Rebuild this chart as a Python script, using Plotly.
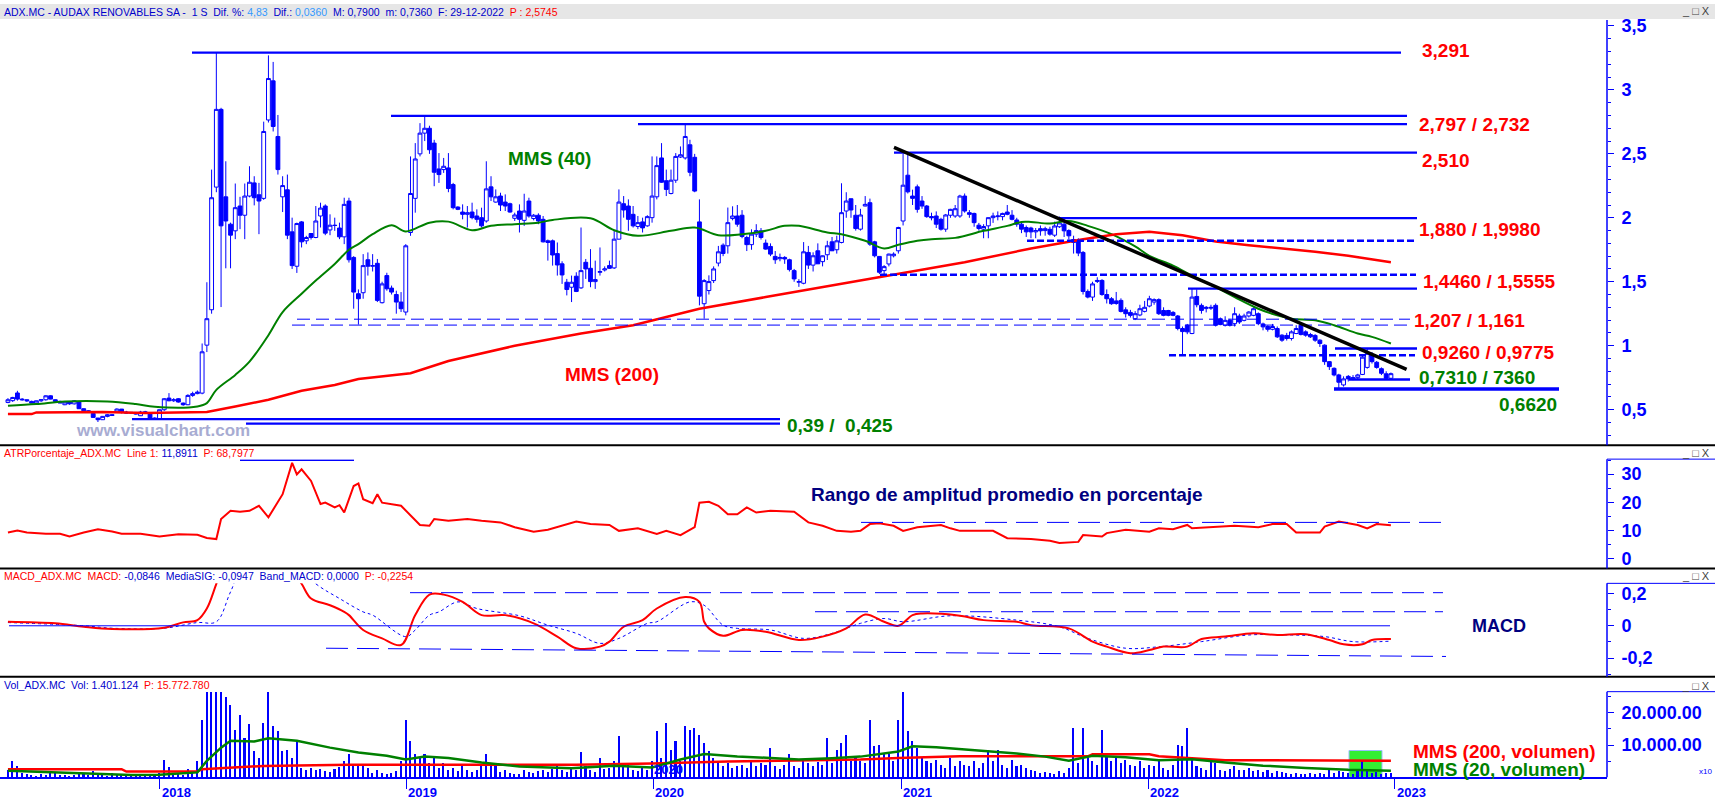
import pandas as pd
import plotly.graph_objects as go

W, H = 1715, 799
FONT = "Liberation Sans, Arial, sans-serif"

# ======================= DATA =======================
START = "2017-05-22"          # first weekly bar
N_WEEKS = 293

opens = [
    .556, .570, .630, .582, .577, .564, .551, .569, .577, .608,
    .577, .564, .538, .559, .545, .559, .507, .491, .470, .434,
    .421, .447, .460, .481, .504, .481, .473, .478, .452, .481,
    .465, .434, .427, .499, .590, .569, .585, .551, .538, .611,
    .625, .629, 1.004, 1.281, 2.240, 2.848, 2.164, 1.950, 1.898, 2.092,
    2.020, 2.170, 2.273, 2.180, 2.152, 2.765, 3.071, 2.636, 2.164, 2.219,
    1.890, 1.621, 1.968, 1.820, 1.877, 1.846, 2.014, 2.092, 1.905, 1.942,
    1.920, 1.851, 2.131, 1.690, 1.406, 1.414, 1.672, 1.621, 1.644, 1.336,
    1.548, 1.450, 1.400, 1.341, 1.263, 1.885, 2.152, 2.500, 2.662, 2.700,
    2.584, 2.382, 2.377, 2.390, 2.260, 2.084, 2.045, 2.027, 2.045, 2.014,
    2.001, 1.975, 2.242, 2.123, 2.170, 2.123, 2.110, 1.996, 2.053, 1.980,
    2.131, 1.994, 2.020, 1.988, 1.820, 1.820, 1.720, 1.640, 1.496, 1.457,
    1.543, 1.452, 1.652, 1.605, 1.501, 1.574, 1.592, 1.626, 1.608, 1.833,
    2.110, 2.092, 2.027, 1.932, 1.968, 1.937, 2.001, 2.164, 2.468, 2.290,
    2.190, 2.294, 2.475, 2.468, 2.571, 2.473, 1.968, 1.328, 1.431, 1.509,
    1.646, 1.786, 1.781, 1.994, 2.014, 2.020, 1.846, 1.790, 1.872, 1.898,
    1.802, 1.776, 1.698, 1.680, 1.690, 1.672, 1.587, 1.496, 1.488, 1.729,
    1.630, 1.742, 1.657, 1.711, 1.812, 1.750, 1.807, 2.053, 2.149, 2.020,
    1.911, 2.092, 2.118, 1.812, 1.698, 1.587, 1.639, 1.703, 1.742, 1.975,
    2.333, 2.170, 2.242, 2.131, 2.092, 2.010, 2.014, 1.988, 1.911, 2.020,
    2.014, 2.014, 2.170, 2.040, 2.034, 1.942, 1.911, 1.937, 2.001, 2.009,
    2.009, 2.045, 2.020, 1.983, 1.950, 1.924, 1.920, 1.890, 1.915, 1.900,
    1.910, 1.864, 1.930, 1.950, 1.900, 1.830, 1.820, 1.729, 1.424, 1.380,
    1.510, 1.510, 1.400, 1.367, 1.350, 1.354, 1.280, 1.260, 1.211, 1.240,
    1.268, 1.310, 1.341, 1.360, 1.275, 1.275, 1.260, 1.232, 1.134, 1.160,
    1.095, 1.385, 1.315, 1.290, 1.300, 1.315, 1.210, 1.160, 1.198, 1.172,
    1.232, 1.198, 1.232, 1.237, 1.250, 1.170, 1.150, 1.128, 1.134, 1.082,
    1.080, 1.056, 1.095, 1.160, 1.108, 1.087, 1.080, 1.043, 1.004, 0.875,
    0.823, 0.771, 0.693, 0.760, 0.740, 0.750, 0.775, 0.830, 0.926, 0.870,
    0.820, 0.780, 0.745,
]
highs = [
    .590, .600, .647, .590, .580, .570, .570, .580, .612, .612,
    .580, .570, .560, .562, .575, .565, .510, .495, .475, .435,
    .450, .465, .465, .510, .505, .490, .480, .480, .490, .490,
    .480, .440, .500, .590, .629, .590, .590, .555, .620, .640,
    .650, 1.017, 1.496, 2.377, 3.291, 2.860, 2.442, 1.962, 2.268, 2.164,
    2.268, 2.403, 2.325, 2.273, 2.752, 3.270, 3.219, 2.804, 2.325, 2.338,
    2.001, 1.962, 1.975, 1.859, 1.880, 2.092, 2.118, 2.105, 2.027, 2.001,
    1.962, 2.157, 2.157, 1.700, 1.440, 1.716, 1.729, 1.716, 1.678, 1.500,
    1.570, 1.470, 1.430, 1.419, 1.794, 2.480, 2.584, 2.740, 2.799, 2.720,
    2.610, 2.506, 2.468, 2.506, 2.273, 2.090, 2.105, 2.092, 2.118, 2.066,
    2.079, 2.442, 2.325, 2.222, 2.196, 2.183, 2.118, 2.040, 2.105, 2.188,
    2.157, 2.030, 2.035, 2.014, 1.830, 1.830, 1.807, 1.660, 1.522, 1.548,
    1.574, 1.924, 1.678, 1.755, 1.665, 1.768, 1.620, 1.665, 1.898, 2.222,
    2.170, 2.144, 2.092, 2.014, 2.001, 2.020, 2.480, 2.480, 2.584, 2.377,
    2.377, 2.506, 2.558, 2.732, 2.610, 2.500, 2.144, 1.520, 1.550, 1.620,
    1.780, 1.800, 2.080, 2.090, 2.100, 2.060, 1.860, 1.910, 1.950, 1.920,
    1.830, 1.800, 1.740, 1.720, 1.700, 1.680, 1.600, 1.520, 1.810, 1.780,
    1.730, 1.800, 1.700, 1.820, 1.850, 1.860, 2.270, 2.200, 2.150, 2.100,
    2.070, 2.170, 2.150, 1.820, 1.700, 1.630, 1.720, 1.730, 1.930, 2.500,
    2.510, 2.220, 2.260, 2.170, 2.100, 2.040, 2.050, 2.000, 2.030, 2.070,
    2.100, 2.180, 2.190, 2.060, 2.040, 1.960, 1.950, 2.000, 2.040, 2.050,
    2.040, 2.100, 2.060, 2.000, 1.960, 1.940, 1.930, 1.920, 1.940, 1.930,
    1.930, 1.970, 2.010, 2.000, 1.910, 1.860, 1.840, 1.740, 1.440, 1.500,
    1.535, 1.520, 1.440, 1.380, 1.420, 1.370, 1.300, 1.280, 1.270, 1.320,
    1.350, 1.390, 1.370, 1.370, 1.300, 1.280, 1.270, 1.240, 1.150, 1.170,
    1.450, 1.440, 1.330, 1.310, 1.320, 1.330, 1.220, 1.230, 1.210, 1.300,
    1.250, 1.250, 1.270, 1.300, 1.260, 1.180, 1.160, 1.170, 1.150, 1.090,
    1.100, 1.120, 1.160, 1.180, 1.120, 1.100, 1.090, 1.050, 1.010, 0.880,
    0.830, 0.780, 0.760, 0.770, 0.770, 0.780, 0.930, 0.977, 0.950, 0.880,
    0.830, 0.800, 0.790,
]
lows = [
    .550, .560, .570, .570, .560, .550, .548, .560, .570, .580,
    .560, .550, .535, .538, .540, .505, .490, .480, .435, .403,
    .420, .440, .450, .475, .470, .470, .468, .460, .450, .470,
    .430, .420, .420, .490, .565, .560, .555, .530, .535, .600,
    .620, .620, .950, 1.250, 2.200, 1.302, 1.605, 1.605, 1.833, 1.911,
    1.833, 2.160, 2.097, 1.872, 2.140, 2.745, 2.675, 2.338, 2.045, 1.833,
    1.600, 1.569, 1.768, 1.794, 1.830, 1.840, 1.924, 1.864, 1.864, 1.898,
    1.833, 1.794, 1.650, 1.289, 1.165, 1.367, 1.548, 1.580, 1.341, 1.330,
    1.430, 1.400, 1.250, 1.263, 1.237, 1.859, 2.040, 2.480, 2.600, 2.500,
    2.247, 2.273, 2.351, 2.200, 2.066, 2.060, 1.988, 1.924, 1.988, 1.962,
    1.924, 1.962, 2.131, 2.118, 2.053, 2.053, 2.040, 1.975, 1.885, 1.937,
    2.001, 1.980, 1.950, 1.807, 1.665, 1.626, 1.548, 1.483, 1.393, 1.341,
    1.419, 1.444, 1.522, 1.457, 1.444, 1.548, 1.580, 1.600, 1.600, 1.830,
    2.001, 1.898, 1.924, 1.911, 1.885, 1.930, 1.962, 2.144, 2.273, 2.170,
    2.183, 2.273, 2.468, 2.455, 2.325, 2.200, 1.315, 1.211, 1.400, 1.490,
    1.620, 1.700, 1.720, 1.980, 1.930, 1.840, 1.740, 1.750, 1.850, 1.830,
    1.750, 1.700, 1.640, 1.660, 1.640, 1.580, 1.500, 1.460, 1.480, 1.600,
    1.580, 1.640, 1.620, 1.670, 1.740, 1.720, 1.800, 2.000, 2.000, 1.900,
    1.900, 2.090, 1.780, 1.690, 1.560, 1.560, 1.620, 1.690, 1.720, 1.940,
    2.190, 2.100, 2.040, 2.070, 2.000, 1.980, 1.920, 1.900, 1.890, 2.000,
    2.000, 2.000, 2.040, 2.000, 1.930, 1.900, 1.840, 1.840, 1.960, 1.980,
    1.980, 2.020, 1.980, 1.930, 1.880, 1.850, 1.840, 1.840, 1.860, 1.860,
    1.860, 1.850, 1.920, 1.850, 1.830, 1.720, 1.700, 1.400, 1.370, 1.350,
    1.490, 1.390, 1.330, 1.320, 1.320, 1.260, 1.220, 1.220, 1.200, 1.230,
    1.260, 1.300, 1.320, 1.240, 1.230, 1.230, 1.230, 1.120, 0.930, 1.090,
    1.090, 1.300, 1.250, 1.260, 1.280, 1.150, 1.160, 1.150, 1.150, 1.150,
    1.170, 1.190, 1.220, 1.230, 1.160, 1.120, 1.110, 1.120, 1.060, 1.030,
    1.040, 1.040, 1.090, 1.080, 1.070, 1.060, 1.030, 0.990, 0.850, 0.810,
    0.760, 0.662, 0.680, 0.720, 0.730, 0.740, 0.770, 0.820, 0.860, 0.820,
    0.770, 0.740, 0.736,
]
closes = [
    .577, .595, .582, .577, .569, .551, .569, .577, .608, .582,
    .564, .551, .559, .545, .569, .507, .491, .486, .439, .421,
    .447, .460, .455, .504, .481, .473, .478, .465, .481, .481,
    .434, .427, .499, .585, .569, .577, .559, .538, .611, .625,
    .637, .952, 1.211, 2.157, 2.848, 1.937, 1.975, 1.864, 2.079, 2.020,
    2.170, 2.278, 2.157, 2.131, 2.675, 3.089, 2.714, 2.377, 2.252, 1.864,
    1.626, 1.955, 1.812, 1.846, 1.846, 1.975, 2.076, 1.880, 1.942, 1.940,
    1.851, 2.105, 1.672, 1.419, 1.367, 1.626, 1.621, 1.626, 1.354, 1.483,
    1.445, 1.419, 1.341, 1.289, 1.781, 2.190, 2.460, 2.662, 2.700, 2.532,
    2.356, 2.338, 2.403, 2.229, 2.079, 2.066, 2.027, 2.040, 2.001, 1.988,
    1.937, 2.226, 2.164, 2.164, 2.100, 2.092, 2.045, 2.022, 1.988, 2.053,
    2.014, 2.020, 1.975, 1.812, 1.807, 1.709, 1.631, 1.553, 1.439, 1.496,
    1.424, 1.587, 1.600, 1.501, 1.517, 1.579, 1.600, 1.605, 1.833, 2.123,
    2.061, 1.988, 1.937, 1.962, 1.921, 2.009, 2.170, 2.408, 2.278, 2.222,
    2.294, 2.480, 2.493, 2.636, 2.356, 2.209, 1.387, 1.509, 1.501, 1.600,
    1.734, 1.721, 1.962, 2.014, 1.950, 1.854, 1.790, 1.872, 1.900, 1.846,
    1.755, 1.716, 1.672, 1.690, 1.678, 1.595, 1.522, 1.501, 1.734, 1.630,
    1.703, 1.640, 1.703, 1.781, 1.742, 1.820, 2.040, 2.131, 2.061, 1.916,
    2.022, 2.105, 1.794, 1.703, 1.574, 1.618, 1.716, 1.716, 1.924, 2.255,
    2.203, 2.152, 2.066, 2.092, 2.009, 2.000, 1.950, 1.911, 2.022, 2.066,
    2.071, 2.170, 2.053, 2.027, 1.962, 1.916, 1.932, 2.001, 2.014, 2.014,
    2.034, 2.027, 1.988, 1.950, 1.911, 1.890, 1.890, 1.900, 1.898, 1.915,
    1.872, 1.936, 1.960, 1.898, 1.859, 1.807, 1.724, 1.424, 1.380, 1.483,
    1.504, 1.400, 1.367, 1.328, 1.330, 1.268, 1.250, 1.237, 1.250, 1.289,
    1.300, 1.367, 1.360, 1.250, 1.237, 1.237, 1.237, 1.134, 1.110, 1.108,
    1.380, 1.320, 1.276, 1.300, 1.295, 1.160, 1.165, 1.198, 1.160, 1.250,
    1.185, 1.232, 1.263, 1.289, 1.172, 1.147, 1.128, 1.150, 1.069, 1.043,
    1.056, 1.108, 1.134, 1.088, 1.082, 1.069, 1.043, 1.017, 0.875, 0.836,
    0.771, 0.714, 0.740, 0.740, 0.750, 0.771, 0.910, 0.940, 0.875, 0.830,
    0.784, 0.745, 0.781,
]
volume = [
    2500, 5000, 3600, 1500, 1000, 800, 600, 1200, 900, 1500,
    1800, 900, 700, 600, 800, 1500, 1000, 700, 2000, 1200,
    800, 600, 1500, 900, 700, 600, 800, 500, 700, 600,
    1200, 900, 1500, 5500, 3300, 1500, 1000, 800, 2700, 1500,
    5000, 18000, 26500, 26500, 26500, 26500, 25000, 22600, 14900, 19500,
    12300, 16500, 8200, 6200, 17000, 26500, 16000, 14400, 8200, 8700,
    6200, 11300, 3100, 2500, 3000, 2200, 2800, 2000, 1800, 2600,
    3200, 5100, 7200, 4000, 4000, 3500, 3000, 1500, 2500, 1400,
    1000, 1500, 2000, 5000, 18000, 11300, 7200, 6200, 7200, 4500,
    6000, 3000, 4500, 2500, 3000, 2000, 3500, 2500, 1800, 2200,
    4000, 7200, 3500, 4000, 1800, 2500, 1500, 1200, 1000, 2500,
    1800, 1500, 2000, 2500, 1800, 2800, 3500, 2500, 1800, 3000,
    2500, 8000, 3500, 2500, 1800, 6000, 2800, 3000, 5000, 12800,
    4000, 4600, 2500, 2000, 3000, 2500, 5000, 14400, 6000, 17000,
    8700, 11300, 5000, 16000, 14900, 15400, 13300, 10800, 8200, 6200,
    5000, 3500, 4500, 3000, 3500, 4000, 3000, 5000, 3500, 4500,
    4000, 9300, 3500, 2800, 4000, 7400, 3500, 3000, 5500, 4500,
    3500, 4800, 3800, 12200, 4500, 8700, 10800, 13300, 5000, 6500,
    5000, 4500, 18000, 9800, 10100, 7700, 7200, 5000, 18000, 26500,
    14400, 11300, 9200, 6000, 5000, 4500, 5500, 4000, 3000, 6000,
    3500, 5000, 4000, 3500, 5000, 3000, 4500, 8700, 5000, 8700,
    4000, 3000, 5500, 3500, 4000, 3000, 2500, 2000, 1500, 1800,
    1500, 1200, 2000, 1500, 3000, 15500, 4500, 15500, 6000, 5000,
    4000, 14900, 6500, 5000, 6500, 4500, 5500, 4000, 3500, 5000,
    3000, 4000, 3500, 5500, 3000, 2500, 4000, 10000, 9700, 15500,
    5500, 3500, 3000, 2500, 5000, 4500, 2500, 2000, 2800, 3500,
    2500, 2200, 3000, 2000, 2500, 1800, 2200, 1500, 2000, 1800,
    1500, 1200, 1500, 1200, 1000, 1300, 1000, 1500, 1200, 2500,
    1500, 2000, 1800, 1500, 1200, 2000, 5000, 2500, 1500, 1800,
    1200, 1500, 1400,
]

# moving averages (week index -> value)
mms40_wk = [0, 6, 12, 21, 27, 31, 40, 42, 44, 48, 51, 55, 58, 62, 65, 69, 72, 74, 77, 81,
            84, 89, 93, 98, 102, 107, 112, 115, 123, 128, 133, 140, 145, 150, 155, 160, 164, 167,
            173, 176, 181, 185, 188, 192, 195, 200, 206, 211, 214, 216, 220, 224, 228, 233, 238,
            241, 246, 250, 255, 259, 264, 268, 271, 276, 280, 285, 288, 292]
mms40_val = [.530, .543, .564, .564, .543, .522, .525, .551, .654, .771, .875, 1.082, 1.263, 1.406,
             1.509, 1.639, 1.750, 1.794, 1.872, 1.942, 1.893, 1.962, 1.970, 1.903, 1.937, 1.950,
             1.962, 1.983, 1.996, 1.903, 1.859, 1.898, 1.924, 1.864, 1.872, 1.898, 1.937, 1.937,
             1.885, 1.872, 1.820, 1.760, 1.789, 1.820, 1.833, 1.843, 1.898, 1.937, 1.968, 1.968,
             1.955, 1.975, 1.937, 1.872, 1.776, 1.703, 1.626, 1.548, 1.457, 1.380, 1.289, 1.237,
             1.211, 1.198, 1.160, 1.095, 1.069, 1.017]
mms200_wk = [0, 5, 6, 20, 29, 42, 48, 55, 62, 69, 74, 85, 93, 107, 121, 132, 139, 146, 160, 174,
             188, 202, 216, 222, 227, 234, 241, 248, 255, 262, 269, 276, 283, 292]
mms200_val = [.465, .465, .478, .481, .473, .481, .525, .577, .647, .693, .740, .784, .880, .999,
              1.095, 1.160, 1.224, 1.289, 1.380, 1.470, 1.561, 1.652, 1.760, 1.799, 1.833, 1.872,
              1.890, 1.864, 1.815, 1.786, 1.763, 1.735, 1.703, 1.652]

atr_wk = [0, 2, 4, 8, 11, 13, 16, 19, 22, 24, 28, 32, 36, 40, 42, 44, 45, 47, 49, 51, 53, 55, 58,
          60, 61, 62, 64, 66, 67, 69, 70, 71, 73, 74, 75, 77, 78, 79, 83, 85, 87, 89, 90, 93, 97,
          100, 104, 107, 111, 114, 117, 120, 123, 127, 129, 133, 137, 139, 142, 145, 146, 148,
          150, 152, 154, 156, 158, 161, 166, 169, 172, 175, 178, 180, 182, 184, 187, 189, 192,
          197, 199, 201, 208, 211, 216, 220, 222, 226, 227, 231, 232, 236, 241, 243, 246, 249,
          250, 255, 259, 264, 267, 270, 272, 277, 278, 281, 285, 287, 289, 292]
atr_val = [9.3, 10.0, 9.3, 8.9, 8.9, 7.9, 9.3, 10.5, 9.7, 8.9, 8.9, 7.9, 8.7, 8.5, 7.4, 7.0, 14.1,
           17.0, 16.7, 17.0, 18.8, 14.7, 22.9, 34.0, 29.9, 31.7, 27.6, 19.4, 19.9, 18.2, 19.0,
           16.4, 25.8, 26.7, 21.1, 19.7, 22.9, 19.9, 18.8, 15.3, 12.0, 11.7, 14.1, 13.5, 14.1,
           13.5, 12.9, 11.2, 9.6, 10.3, 11.7, 13.2, 12.3, 12.0, 9.9, 10.8, 8.8, 9.9, 8.4, 11.2,
           19.9, 20.2, 18.8, 15.8, 15.8, 18.2, 16.4, 17.0, 16.7, 12.9, 11.7, 9.9, 9.6, 9.9, 12.3,
           12.6, 11.7, 9.9, 11.2, 12.0, 10.8, 9.9, 9.9, 7.3, 7.0, 6.4, 5.6, 6.0, 8.4, 7.9, 9.1,
           10.3, 9.6, 10.8, 10.5, 12.0, 10.8, 11.2, 11.7, 11.2, 12.3, 12.3, 9.3, 9.3, 11.4, 13.2,
           12.0, 10.8, 12.3, 11.9]

macd_wk = [0, 10, 16, 22, 33, 37, 40, 42, 44, 47, 52, 57, 62, 64, 68, 71, 72, 75, 79, 83, 86, 89,
           92, 96, 100, 105, 111, 116, 120, 125, 127, 130, 134, 137, 143, 146, 147, 148, 151, 155,
           160, 167, 172, 177, 181, 185, 188, 191, 193, 201, 206, 213, 216, 224, 229, 232, 237,
           241, 244, 249, 252, 257, 263, 268, 274, 279, 282, 286, 288, 292]
macd_val = [.025, .015, -.006, -.020, -.012, .021, .035, .107, .260, .500, .560, .480, .260, .169,
            .127, .086, .066, -.026, -.078, -.119, .066, .193, .193, .148, .066, .066, .015,
            -.067, -.139, -.129, -.098, -.006, .035, .107, .178, .148, .025, -.016, -.062, -.026,
            -.037, -.088, -.067, -.016, .070, .025, .000, .066, .076, .062, .035, .025, .004,
            -.016, -.098, -.129, -.170, -.150, -.129, -.129, -.082, -.067, -.047, -.057, -.052,
            -.088, -.115, -.115, -.088, -.082]
signal_wk = [0, 16, 22, 33, 40, 44, 47, 51, 58, 65, 70, 75, 77, 84, 86, 89, 91, 95, 99, 108, 114,
             120, 125, 129, 135, 137, 144, 147, 151, 154, 161, 168, 174, 180, 185, 189, 199, 213,
             222, 228, 236, 243, 252, 262, 271, 278, 284, 292]
signal_val = [.020, .000, -.015, -.015, .020, .025, .210, .450, .450, .260, .169, .086, .066,
              -.067, -.026, .066, .086, .148, .107, .062, .004, -.047, -.109, -.078, .015, .025,
              .148, .127, .004, -.016, -.026, -.078, -.047, .015, .045, .025, .062, .035, -.006,
              -.078, -.139, -.130, -.098, -.057, -.057, -.067, -.098, -.095]

volm200_wk = [0, 24, 25, 40, 41, 47, 54, 72, 120, 136, 152, 180, 188, 201, 228, 229, 241, 243,
              250, 257, 292]
volm200_val = [2500, 2500, 1750, 1750, 2500, 3000, 3500, 3900, 3900, 4300, 4900, 5500, 6000,
               6500, 6500, 7100, 7100, 6500, 6000, 5300, 5100]
volm20_wk = [0, 10, 16, 26, 32, 40, 42, 45, 47, 52, 55, 61, 68, 74, 80, 84, 88, 93, 100, 108, 119,
             128, 136, 142, 147, 154, 161, 167, 174, 180, 188, 191, 196, 207, 213, 219, 224, 229,
             236, 243, 250, 257, 265, 274, 283, 292]
volm20_val = [2000, 1500, 1000, 700, 800, 1500, 5100, 9200, 11300, 11100, 12100, 11300, 9200,
              7700, 6700, 5500, 6400, 6000, 4600, 3300, 2800, 3600, 3000, 5500, 7200, 6400, 6000,
              5500, 5900, 6400, 8000, 9600, 9300, 8200, 7400, 6400, 5100, 6700, 6200, 5300, 5600,
              4600, 3600, 2900, 2300, 2000]

# support / resistance levels and drawn studies (price units)
levels_solid = [3.291, 2.797, 2.732, 2.510, 1.998, 1.446, 0.9775, 0.736, 0.662, 0.425, 0.39]
levels_dash_thick = [1.82, 1.5555, 0.926]
levels_dash_thin = [1.207, 1.161]
trend_prices = [2.551, 0.815]
triangle_prices = [1.470, 0.926, 1.055]
atr_levels = [34.9, 12.9]
macd_levels = [0.0, 0.205, 0.087]
macd_slope_levels = [-0.139, -0.19]
vol_box_top = 8300

red_labels = ["3,291", "2,797 / 2,732", "2,510", "1,880 / 1,9980", "1,4460 / 1,5555",
              "1,207 / 1,161", "0,9260 / 0,9775"]
green_labels = ["0,7310 / 7360", "0,6620", "0,39 /&nbsp; 0,425"]
years = [2018, 2019, 2020, 2021, 2022, 2023]
price_ticks = [0.5, 1, 1.5, 2, 2.5, 3, 3.5]
price_ticktext = ["0,5", "1", "1,5", "2", "2,5", "3", "3,5"]
atr_ticks = [0, 10, 20, 30]
macd_ticks = [-0.2, 0, 0.2]
macd_ticktext = ["-0,2", "0", "0,2"]
vol_ticks = [10000, 20000]
vol_ticktext = ["10.000.00", "20.000.00"]

assert len(opens) == len(highs) == len(lows) == len(closes) == len(volume) == N_WEEKS

# ======================= LAYOUT HELPERS =======================
dates = pd.date_range(START, periods=N_WEEKS, freq="7D")
X0_DATE, X0_PX, PX_PER_DAY = pd.Timestamp("2018-01-01"), 159.5, 0.6766
PLOT_RIGHT = 1607


def xd(px):
    return (X0_DATE + pd.Timedelta(days=(px - X0_PX) / PX_PER_DAY)).strftime("%Y-%m-%d %H:%M")


def fy(y):
    return 1 - y / H


def wk(idx):
    return [dates[i] for i in idx]


# pixel calibration per panel: y_px = a - b * value
PANELS = {
    "y": dict(top=16, bot=444, a=472.5, b=128.68),
    "y2": dict(top=458, bot=568, a=558.3, b=2.84),
    "y3": dict(top=583, bot=677, a=625.7, b=162.5),
    "y4": dict(top=692, bot=778.1, a=778.1, b=0.00324),
}


def yaxis(key, tickvals, ticktext, minor_vals):
    p = PANELS[key]
    return dict(
        domain=[fy(p["bot"]), fy(p["top"])],
        range=[(p["a"] - p["bot"]) / p["b"], (p["a"] - p["top"]) / p["b"]],
        anchor="x", side="right", showgrid=False, zeroline=False, showline=False,
        ticks="outside", ticklen=6, tickwidth=1, tickcolor="blue",
        tickmode="array", tickvals=tickvals, ticktext=ticktext,
        tickfont=dict(family=FONT, size=18, color="blue", weight="bold"),
        ticklabelstandoff=4,
        minor=dict(tickmode="array", tickvals=minor_vals, ticks="outside", ticklen=3,
                   tickcolor="blue", tickwidth=1, showgrid=False),
        fixedrange=True,
    )


# ======================= TRACES =======================
fig = go.Figure()
fig.add_trace(go.Candlestick(
    x=dates, open=opens, high=highs, low=lows, close=closes,
    increasing=dict(line=dict(color="blue", width=1), fillcolor="white"),
    decreasing=dict(line=dict(color="blue", width=1), fillcolor="blue"),
    whiskerwidth=0, xaxis="x", yaxis="y", showlegend=False))
fig.add_trace(go.Scatter(x=wk(mms40_wk), y=mms40_val, mode="lines", line_shape="spline",
                         line=dict(color="#008000", width=2), yaxis="y"))
fig.add_trace(go.Scatter(x=wk(mms200_wk), y=mms200_val, mode="lines",
                         line=dict(color="#ff0000", width=2.5), yaxis="y"))
fig.add_trace(go.Scatter(x=wk(atr_wk), y=atr_val, mode="lines",
                         line=dict(color="#ff0000", width=2), yaxis="y2"))
fig.add_trace(go.Scatter(x=wk(signal_wk), y=signal_val, mode="lines", line_shape="spline",
                         line=dict(color="blue", width=1, dash="dot"), yaxis="y3"))
fig.add_trace(go.Scatter(x=wk(macd_wk), y=macd_val, mode="lines", line_shape="spline",
                         line=dict(color="#ff0000", width=2), yaxis="y3"))
fig.add_trace(go.Bar(x=dates, y=volume, marker=dict(color="blue", line=dict(width=0)),
                     width=2.3 * 86400000, yaxis="y4"))
fig.add_trace(go.Scatter(x=wk(volm200_wk), y=volm200_val, mode="lines",
                         line=dict(color="#ff0000", width=2.5), yaxis="y4"))
fig.add_trace(go.Scatter(x=wk(volm20_wk), y=volm20_val, mode="lines",
                         line=dict(color="#008000", width=2.5), yaxis="y4"))

# ======================= SHAPES =======================
shapes = []


def hline(x0, x1, val, yref, color="blue", width=2.2, dash=None, y1val=None):
    shapes.append(dict(type="line", xref="x", yref=yref, x0=xd(x0), x1=xd(x1), y0=val,
                       y1=val if y1val is None else y1val,
                       line=dict(color=color, width=width, dash=dash)))


solid_x = [(192, 1401), (391, 1407), (638, 1407), (894, 1417), (1059, 1417), (1188, 1417),
           (1335, 1417), (1349, 1410), (1334, 1559), (132, 780), (246, 780)]
solid_w = [2.2, 2.2, 2.2, 2.2, 2.2, 2.2, 2.5, 2.5, 3.5, 2.2, 2.2]
for v, (a, b), w_ in zip(levels_solid, solid_x, solid_w):
    hline(a, b, v, "y", width=w_)
for v, (a, b) in zip(levels_dash_thick, [(1027, 1416), (880, 1416), (1169, 1415)]):
    hline(a, b, v, "y", width=2.5, dash="7px,3px")
for v, (a, b) in zip(levels_dash_thin, [(297, 1410), (292, 1410)]):
    hline(a, b, v, "y", width=1, dash="13px,6px")

# triangle (below candles)
tx = [1183.3, 1183.3, 1345]
shapes.append(dict(type="path", xref="x", yref="y", layer="below",
                   path=f"M {xd(tx[0])},{triangle_prices[0]} L {xd(tx[1])},{triangle_prices[1]} "
                        f"L {xd(tx[2])},{triangle_prices[2]} Z",
                   fillcolor="rgba(215,205,222,0.55)", line=dict(color="#800080", width=1)))
# black trendline
shapes.append(dict(type="line", xref="x", yref="y", x0=xd(894), x1=xd(1406.6),
                   y0=trend_prices[0], y1=trend_prices[1], line=dict(color="black", width=3.5)))

# ATR studies
hline(240, 354, atr_levels[0], "y2", width=1.5)
hline(861, 1445, atr_levels[1], "y2", width=1, dash="22px,9px")
# MACD studies
hline(9, 1390, macd_levels[0], "y3", width=1)
hline(410, 1443, macd_levels[1], "y3", width=1, dash="22px,9px")
hline(815, 1443, macd_levels[2], "y3", width=1, dash="22px,9px")
hline(326, 1446, macd_slope_levels[0], "y3", width=1, dash="22px,9px", y1val=macd_slope_levels[1])
# volume highlight box
shapes.append(dict(type="rect", xref="x", yref="y4", x0=xd(1349), x1=xd(1382), y0=0,
                   y1=vol_box_top, fillcolor="#33ee33", line=dict(color="#99bbff", width=1),
                   layer="below"))

# frame: title bar, separators, axis lines
shapes.append(dict(type="rect", xref="paper", yref="paper", x0=0, x1=1, y0=fy(15), y1=1,
                   fillcolor="#e6e6e6", line=dict(width=0), layer="below"))
for ysep in [444, 568, 677]:
    shapes.append(dict(type="line", xref="paper", yref="paper", x0=0, x1=1, y0=fy(ysep),
                       y1=fy(ysep), line=dict(color="black", width=2)))
for key, p in PANELS.items():
    shapes.append(dict(type="line", xref="paper", yref="paper", x0=PLOT_RIGHT / W,
                       x1=PLOT_RIGHT / W, y0=fy(p["bot"]), y1=fy(p["top"]),
                       line=dict(color="blue", width=1.5)))
    if key != "y":
        shapes.append(dict(type="line", xref="paper", yref="paper", x0=PLOT_RIGHT / W, x1=1,
                           y0=fy(p["top"]), y1=fy(p["top"]), line=dict(color="blue", width=1)))

# ======================= ANNOTATIONS =======================
anns = []


def ann(text, x, y, color, size, bold=True, xanchor="left", xref="paper"):
    anns.append(dict(text=f"<b>{text}</b>" if bold else text,
                     x=(x / W) if xref == "paper" else x, y=fy(y), xref=xref, yref="paper",
                     xanchor=xanchor, yanchor="middle", showarrow=False,
                     font=dict(family=FONT, size=size, color=color)))


for t, (x, y) in zip(red_labels, [(1420, 47), (1417, 121), (1420, 157), (1417, 227),
                                  (1421, 279), (1412, 318), (1420, 351)]):
    ann(t, x, y, "#ff0000", 19)
for t, (x, y) in zip(green_labels, [(1417, 376), (1497, 403), (785, 424)]):
    ann(t, x, y, "#008000", 19)
ann("MMS (40)", 506, 155, "#008000", 19)
ann("MMS (200)", 563, 373, "#ff0000", 19)
ann("www.visualchart.com", 74, 429, "#a8acd2", 17)
ann("Rango de amplitud promedio en porcentaje", 809, 494, "#000080", 19)
ann("MACD", 1470, 626, "#000080", 18)
ann("MMS (200, volumen)", 1411, 752, "#ff0000", 19)
ann("MMS (20, volumen)", 1411, 770, "#008000", 19)
ann("2020", 652, 770, "blue", 13)
for yr in years:
    ann(str(yr), f"{yr}-01-01", 793, "blue", 13, xref="x")

B, LB, R = "#0000cc", "#3399ff", "#ff0000"
sp = "&nbsp;&nbsp;"
title_txt = (f"<span style='color:{B}'>ADX.MC - AUDAX RENOVABLES SA -{sp}1 S{sp}Dif. %: </span>"
             f"<span style='color:{LB}'>4,83</span><span style='color:{B}'>{sp}Dif.: </span>"
             f"<span style='color:{LB}'>0,0360</span>"
             f"<span style='color:{B}'>{sp}M: 0,7900{sp}m: 0,7360{sp}F: 29-12-2022{sp}</span>"
             f"<span style='color:{R}'>P : 2,5745</span>")
ann(title_txt, 2, 8, B, 10.5, bold=False)
ann(f"<span style='color:{R}'>ATRPorcentaje_ADX.MC{sp}Line 1: </span>"
    f"<span style='color:{B}'>11,8911</span><span style='color:{R}'>{sp}P: 68,7977</span>",
    2, 452, R, 10.5, bold=False)
ann(f"<span style='color:{R}'>MACD_ADX.MC{sp}MACD: </span>"
    f"<span style='color:{B}'>-0,0846{sp}MediaSIG: -0,0947{sp}Band_MACD: 0,0000</span>"
    f"<span style='color:{R}'>{sp}P: -0,2254</span>", 2, 576, R, 10.5, bold=False)
ann(f"<span style='color:{B}'>Vol_ADX.MC{sp}Vol: 1.401.124</span>"
    f"<span style='color:{R}'>{sp}P: 15.772.780</span>", 2, 685, R, 10.5, bold=False)
for yy in [7, 452, 576, 686]:
    ann("_&nbsp;&#9633;&nbsp;X", 1712, yy, "#404040", 11, bold=False, xanchor="right")
ann("x10", 1714, 772, "blue", 8, bold=False, xanchor="right")

# ======================= LAYOUT =======================
fig.update_layout(
    width=W, height=H, margin=dict(l=0, r=0, t=0, b=0),
    paper_bgcolor="white", plot_bgcolor="white", showlegend=False,
    shapes=shapes, annotations=anns, bargap=0, boxgap=0.1, boxgroupgap=0.1,
    xaxis=dict(domain=[0, PLOT_RIGHT / W], range=[xd(0), xd(PLOT_RIGHT)], type="date",
               anchor="y4", showgrid=False, zeroline=False, showline=True, linecolor="blue",
               linewidth=2, ticks="outside", ticklen=10, tickcolor="blue", tickwidth=1,
               tickvals=[f"{y}-01-01" for y in years], showticklabels=False,
               rangeslider=dict(visible=False), fixedrange=True),
    yaxis=yaxis("y", price_ticks, price_ticktext, [round(0.1 * i, 2) for i in range(3, 36)]),
    yaxis2=yaxis("y2", atr_ticks, [str(v) for v in atr_ticks], list(range(0, 40, 5))),
    yaxis3=yaxis("y3", macd_ticks, macd_ticktext, [-0.3, -0.2, -0.1, 0, 0.1, 0.2]),
    yaxis4=yaxis("y4", vol_ticks, vol_ticktext, [5000, 10000, 15000, 20000, 25000]),
)

fig.write_html("out.html")
